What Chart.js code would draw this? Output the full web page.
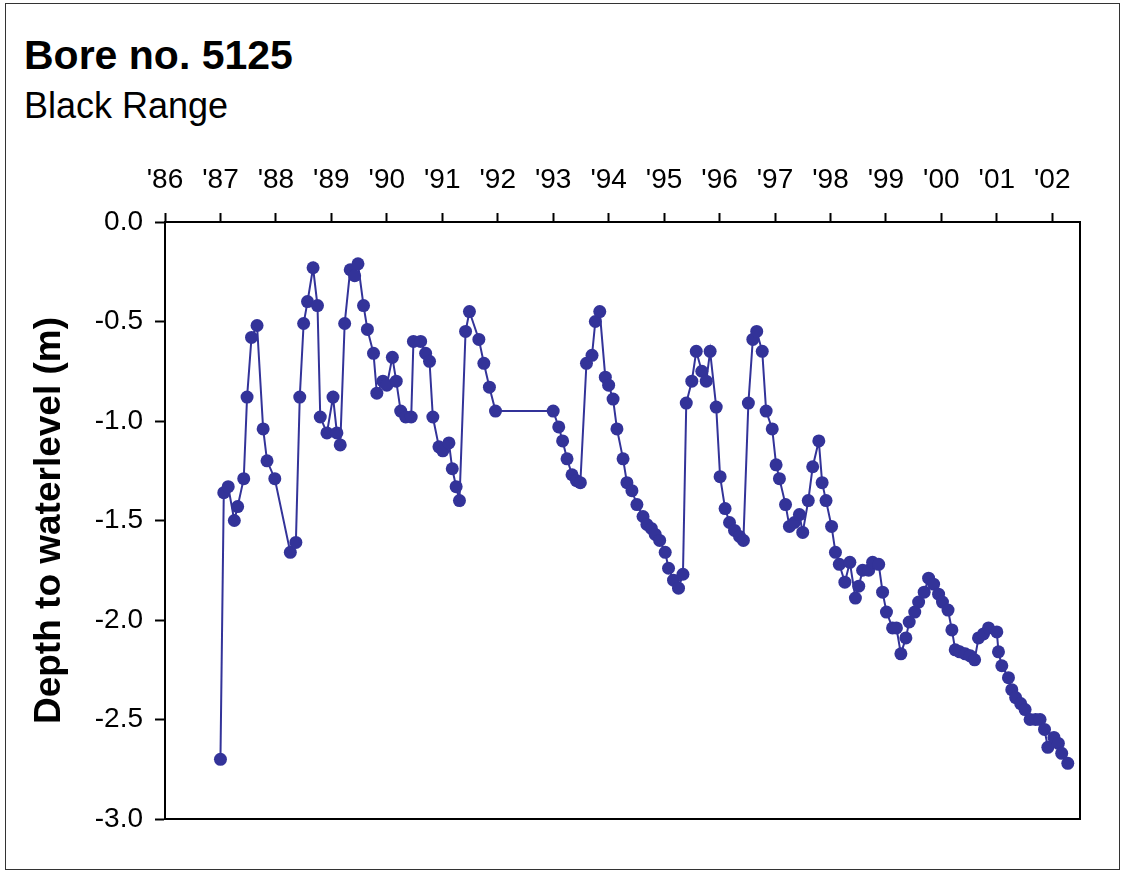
<!DOCTYPE html>
<html>
<head>
<meta charset="utf-8">
<script src="https://cdn.jsdelivr.net/npm/chart.js@4.4.0/dist/chart.umd.min.js"></script>
<style>
    body { margin: 0; background: #fff; }
    #wrap { position: relative; width: 1125px; height: 875px; overflow: hidden; }
    #frame { position: absolute; left: 5px; top: 3px; width: 1115px; height: 867px; border: 1.5px solid #333; box-sizing: border-box; }
    .ttl { position: absolute; left: 24px; font-family: "Liberation Sans", Arial, sans-serif; color: #000; line-height: 1; white-space: nowrap; }
    #title { top: 35px; font-size: 41px; font-weight: bold; }
    #subtitle { top: 88px; font-size: 36px; }
    canvas { position: absolute; left: 0; top: 0; }
</style>
</head>
<body>
<div id="wrap">
    <div id="frame"></div>
    <div class="ttl" id="title">Bore no. 5125</div>
    <div class="ttl" id="subtitle">Black Range</div>
    <canvas id="boreChart" width="1125" height="875"></canvas>
</div>
<script>
// sample dates as decimal years, depth to water level in metres
const sampleYears = [
    1987.00, 1987.06, 1987.14, 1987.25, 1987.31, 1987.42, 1987.48, 1987.56, 1987.66, 1987.77,
    1987.84, 1987.98, 1988.26, 1988.36, 1988.43, 1988.50, 1988.57, 1988.67, 1988.75, 1988.80,
    1988.92, 1989.03, 1989.10, 1989.16, 1989.24, 1989.34, 1989.42, 1989.48, 1989.58, 1989.65,
    1989.76, 1989.82, 1989.93, 1990.00, 1990.10, 1990.17, 1990.25, 1990.34, 1990.44, 1990.48,
    1990.61, 1990.70, 1990.77, 1990.83, 1990.94, 1991.01, 1991.12, 1991.18, 1991.25, 1991.31,
    1991.42, 1991.49, 1991.66, 1991.75, 1991.85, 1991.96, 1993.00, 1993.10, 1993.17, 1993.25,
    1993.34, 1993.42, 1993.49, 1993.60, 1993.70, 1993.76, 1993.84, 1993.94, 1994.00, 1994.08,
    1994.15, 1994.26, 1994.33, 1994.42, 1994.51, 1994.62, 1994.69, 1994.77, 1994.84, 1994.92,
    1995.02, 1995.08, 1995.17, 1995.26, 1995.34, 1995.40, 1995.50, 1995.58, 1995.68, 1995.76,
    1995.83, 1995.94, 1996.01, 1996.10, 1996.18, 1996.27, 1996.36, 1996.43, 1996.52, 1996.60,
    1996.67, 1996.77, 1996.84, 1996.95, 1997.02, 1997.08, 1997.19, 1997.26, 1997.35, 1997.44,
    1997.50, 1997.60, 1997.68, 1997.79, 1997.85, 1997.92, 1998.02, 1998.09, 1998.16, 1998.26,
    1998.35, 1998.45, 1998.51, 1998.58, 1998.69, 1998.76, 1998.87, 1998.94, 1999.01, 1999.12,
    1999.19, 1999.27, 1999.36, 1999.42, 1999.52, 1999.59, 1999.69, 1999.77, 1999.86, 1999.95,
    2000.02, 2000.12, 2000.19, 2000.25, 2000.33, 2000.43, 2000.52, 2000.60, 2000.67, 2000.76,
    2000.85, 2001.00, 2001.03, 2001.09, 2001.21, 2001.27, 2001.34, 2001.43, 2001.51, 2001.60,
    2001.70, 2001.78, 2001.86, 2001.92, 2002.03, 2002.11, 2002.17, 2002.28
];
const depthValues = [
    -2.70, -1.36, -1.33, -1.50, -1.43, -1.29, -0.88, -0.58, -0.52, -1.04,
    -1.20, -1.29, -1.66, -1.61, -0.88, -0.51, -0.40, -0.23, -0.42, -0.98,
    -1.06, -0.88, -1.06, -1.12, -0.51, -0.24, -0.27, -0.21, -0.42, -0.54,
    -0.66, -0.86, -0.80, -0.82, -0.68, -0.80, -0.95, -0.98, -0.98, -0.60,
    -0.60, -0.66, -0.70, -0.98, -1.13, -1.15, -1.11, -1.24, -1.33, -1.40,
    -0.55, -0.45, -0.59, -0.71, -0.83, -0.95, -0.95, -1.03, -1.10, -1.19,
    -1.27, -1.30, -1.31, -0.71, -0.67, -0.50, -0.45, -0.78, -0.82, -0.89,
    -1.04, -1.19, -1.31, -1.35, -1.42, -1.48, -1.52, -1.54, -1.57, -1.60,
    -1.66, -1.74, -1.80, -1.84, -1.77, -0.91, -0.80, -0.65, -0.75, -0.80,
    -0.65, -0.93, -1.28, -1.44, -1.51, -1.55, -1.58, -1.60, -0.91, -0.59,
    -0.55, -0.65, -0.95, -1.04, -1.22, -1.29, -1.42, -1.53, -1.51, -1.47,
    -1.56, -1.40, -1.23, -1.10, -1.31, -1.40, -1.53, -1.66, -1.72, -1.81,
    -1.71, -1.89, -1.83, -1.75, -1.75, -1.71, -1.72, -1.86, -1.96, -2.04,
    -2.04, -2.17, -2.09, -2.01, -1.96, -1.91, -1.86, -1.79, -1.82, -1.87,
    -1.91, -1.95, -2.05, -2.15, -2.16, -2.17, -2.18, -2.20, -2.09, -2.07,
    -2.04, -2.06, -2.16, -2.23, -2.29, -2.35, -2.39, -2.42, -2.45, -2.50,
    -2.50, -2.50, -2.55, -2.64, -2.59, -2.62, -2.67, -2.72
];
const yearTicks = [1986, 1987, 1988, 1989, 1990, 1991, 1992, 1993, 1994, 1995, 1996, 1997, 1998, 1999, 2000, 2001, 2002];
const yearTickLabels = ["'86", "'87", "'88", "'89", "'90", "'91", "'92", "'93", "'94", "'95", "'96", "'97", "'98", "'99", "'00", "'01", "'02"];
const depthTicks = [0, -0.5, -1.0, -1.5, -2.0, -2.5, -3.0];

const fontFamily = '"Liberation Sans", Arial, sans-serif';
const lineColor = '#333399';

// box round the plot area (right and bottom edges)
const plotFrame = {
    id: 'plotFrame',
    afterDraw(chart) {
        const a = chart.chartArea;
        const ctx = chart.ctx;
        ctx.save();
        ctx.strokeStyle = '#000';
        ctx.lineWidth = 2;
        ctx.strokeRect(a.left, a.top, a.right - a.left, a.bottom - a.top);
        ctx.restore();
    }
};

const points = sampleYears.map((yr, i) => ({ x: yr, y: depthValues[i] }));

new Chart(document.getElementById('boreChart'), {
    type: 'line',
    data: {
        datasets: [{
            data: points,
            borderColor: lineColor,
            backgroundColor: lineColor,
            borderWidth: 2,
            pointRadius: 6.5,
            pointHoverRadius: 6.5,
            pointBorderWidth: 0,
            tension: 0,
            clip: false
        }]
    },
    options: {
        responsive: false,
        animation: false,
        layout: {
            padding: { left: 10, top: 140, right: 45, bottom: 56 }
        },
        plugins: {
            legend: { display: false },
            tooltip: { enabled: false }
        },
        scales: {
            x: {
                type: 'linear',
                position: 'top',
                min: 1986,
                max: 2002.5,
                afterBuildTicks: function(scale) {
                    scale.ticks = yearTicks.map(v => ({ value: v }));
                },
                afterFit: function(scale) {
                    scale.height = 82;
                },
                grid: {
                    display: true,
                    drawOnChartArea: false,
                    drawTicks: true,
                    tickLength: 9,
                    tickWidth: 2,
                    tickColor: '#000'
                },
                border: { display: true, color: '#000', width: 2 },
                ticks: {
                    color: '#000',
                    padding: 16,
                    maxRotation: 0,
                    autoSkip: false,
                    font: { family: fontFamily, size: 28 },
                    callback: function(value) {
                        const idx = yearTicks.indexOf(value);
                        return idx >= 0 ? yearTickLabels[idx] : '';
                    }
                }
            },
            y: {
                type: 'linear',
                min: -3,
                max: 0,
                afterBuildTicks: function(scale) {
                    scale.ticks = depthTicks.map(v => ({ value: v }));
                },
                afterFit: function(scale) {
                    scale.width = 155;
                },
                grid: {
                    display: true,
                    drawOnChartArea: false,
                    drawTicks: true,
                    tickLength: 10,
                    tickWidth: 2,
                    tickColor: '#000'
                },
                border: { display: true, color: '#000', width: 2 },
                ticks: {
                    color: '#000',
                    padding: 12,
                    font: { family: fontFamily, size: 28 },
                    callback: function(value) {
                        return value.toFixed(1);
                    }
                },
                title: {
                    display: true,
                    text: 'Depth to waterlevel (m)',
                    color: '#000',
                    font: { family: fontFamily, size: 37, weight: 'bold' },
                    padding: { top: 18, bottom: 0 }
                }
            }
        }
    },
    plugins: [plotFrame]
});
</script>
</body>
</html>
